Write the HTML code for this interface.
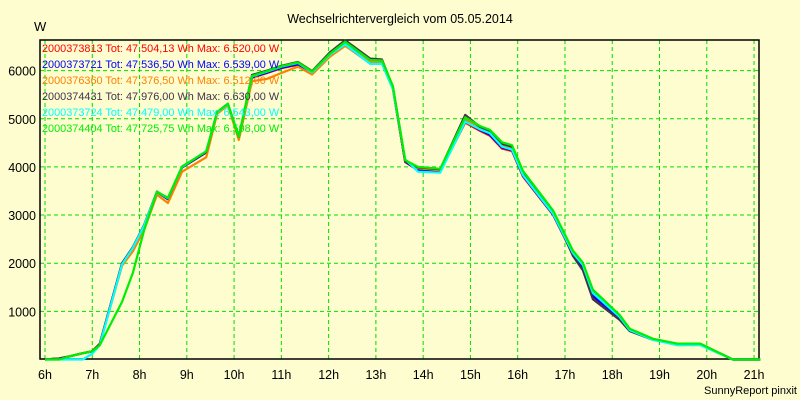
<!DOCTYPE html>
<html><head><meta charset="utf-8"><style>
body{margin:0;background:#fdfdd0;}
svg{display:block;font-family:"Liberation Sans",sans-serif;}
</style></head><body>
<svg id="chart" width="800" height="400">
<rect x="0" y="0" width="800" height="400" fill="#fdfdd0"/>
<text x="400" y="23" text-anchor="middle" font-size="12.5">Wechselrichtervergleich vom 05.05.2014</text>
<text x="34" y="31" font-size="13">W</text>
<text x="797" y="394" text-anchor="end" font-size="11">SunnyReport pinxit</text>
<g id="grid"></g>
<g id="axes"></g>
<g id="series"></g>
<g id="legend"></g>
</svg>
<script>
const hours = [6,6.3,6.5,6.8,7.0,7.16,7.63,7.86,8.1,8.37,8.6,8.9,9.41,9.64,9.87,10.1,10.38,10.7,11.0,11.35,11.65,12.03,12.35,12.88,13.13,13.36,13.62,13.89,14.36,14.89,15.2,15.41,15.67,15.88,16.11,16.75,17.17,17.38,17.59,18.16,18.37,18.86,19.37,19.86,20.55,21.13];
const redVals =    [0,20,60,130,170,330,2000,2330,2800,3480,3330,3990,4300,5120,5290,4620,5850,5950,6050,6120,5930,6300,6520,6150,6150,5620,4100,3930,3910,4920,4750,4650,4380,4330,3800,3000,2180,1900,1300,860,600,420,320,320,0,0];
const blueVals =   [0,20,60,130,170,320,2000,2330,2790,3480,3330,3990,4300,5130,5300,4620,5860,5960,6060,6130,5940,6310,6539,6160,6160,5630,4110,3940,3920,4950,4770,4670,4400,4350,3820,3010,2190,1920,1320,870,610,420,320,320,0,0];
const orangeVals = [0,20,60,130,170,320,1950,2250,2700,3420,3250,3900,4200,5100,5280,4560,5780,5830,5950,6080,5920,6290,6512,6180,6160,5640,4120,3970,3930,5000,4800,4720,4460,4400,3860,3050,2230,1990,1400,900,620,430,330,330,0,0];
const darkVals =   [0,20,60,130,170,320,2000,2330,2800,3490,3340,4000,4310,5140,5310,4625,5910,6000,6100,6180,5990,6380,6630,6250,6230,5660,4110,3990,3950,5080,4830,4740,4480,4420,3880,3050,2150,1850,1250,820,590,410,320,320,0,0];
const cyanVals =   [0,0,0,0,120,300,1980,2320,2790,3480,3350,4000,4330,5130,5300,4640,5880,5980,6080,6160,5960,6330,6545,6140,6140,5620,4160,3900,3880,4940,4780,4700,4420,4360,3830,3020,2210,1960,1380,880,610,410,300,300,0,0];
const greenVals =  [0,0,60,130,170,300,1200,1800,2700,3480,3360,4010,4320,5140,5310,4630,5890,5990,6090,6170,5980,6350,6598,6220,6210,5680,4140,4000,3960,5030,4850,4770,4510,4450,3920,3090,2260,2010,1450,920,640,430,330,330,0,0];
const seriesNames = ["2000373813 Tot: 47.504,13 Wh Max: 6.520,00 W","2000373721 Tot: 47.536,50 Wh Max: 6.539,00 W","2000376360 Tot: 47.376,50 Wh Max: 6.512,00 W","2000374431 Tot: 47.976,00 Wh Max: 6.630,00 W","2000373724 Tot: 47.479,00 Wh Max: 6.543,00 W","2000374404 Tot: 47.725,75 Wh Max: 6.598,00 W"];
const seriesColors = ["#ff0000","#0000ff","#ff8000","#403448","#00ffff","#00ee00"];
const xTicks = [6,7,8,9,10,11,12,13,14,15,16,17,18,19,20,21];
const yTicks = [1000,2000,3000,4000,5000,6000];

const NS="http://www.w3.org/2000/svg";
function xs(h){return 45+(h-6)*47.27;}
function ys(w){return 359.5-w*0.04815;}
function mk(tag,attrs,parent){const e=document.createElementNS(NS,tag);for(const k in attrs)e.setAttribute(k,attrs[k]);parent.appendChild(e);return e;}
const grid=document.getElementById('grid'),axes=document.getElementById('axes'),sg=document.getElementById('series'),lg=document.getElementById('legend');
xTicks.forEach(t=>{
  const l=mk('line',{x1:xs(t),x2:xs(t),y1:40,y2:359,stroke:'#00dd00','stroke-dasharray':'4,3','stroke-width':1},grid);
  
  
  const tx=mk('text',{x:xs(t),y:379,'text-anchor':'middle','font-size':12.5},axes);
  tx.textContent=t+'h';
  
  
});
yTicks.forEach(t=>{
  const l=mk('line',{x1:40,x2:759,y1:ys(t),y2:ys(t),stroke:'#00dd00','stroke-dasharray':'4,3','stroke-width':1},grid);
  
  
  const tx=mk('text',{x:36,y:ys(t)+5,'text-anchor':'end','font-size':12.5},axes);
  tx.textContent=t;
  
  
});
const fr=mk('rect',{x:40,y:40,width:719,height:319,fill:'none',stroke:'#000','stroke-width':1.5},axes);


const allVals=[redVals,blueVals,orangeVals,darkVals,cyanVals,greenVals];
allVals.forEach((vals,i)=>{
  const pts=hours.map((h,j)=>xs(h).toFixed(1)+','+ys(vals[j]).toFixed(1)).join(' ');
  const p=mk('polyline',{points:pts,fill:'none',stroke:seriesColors[i],'stroke-width':2.2,'stroke-linejoin':'round'},sg);
  
  
});
seriesNames.forEach((n,i)=>{
  const t=mk('text',{x:42,y:52+i*16,'font-size':10.9,fill:seriesColors[i]},lg);
  t.textContent=n;
  
  
});
</script>
</body></html>
